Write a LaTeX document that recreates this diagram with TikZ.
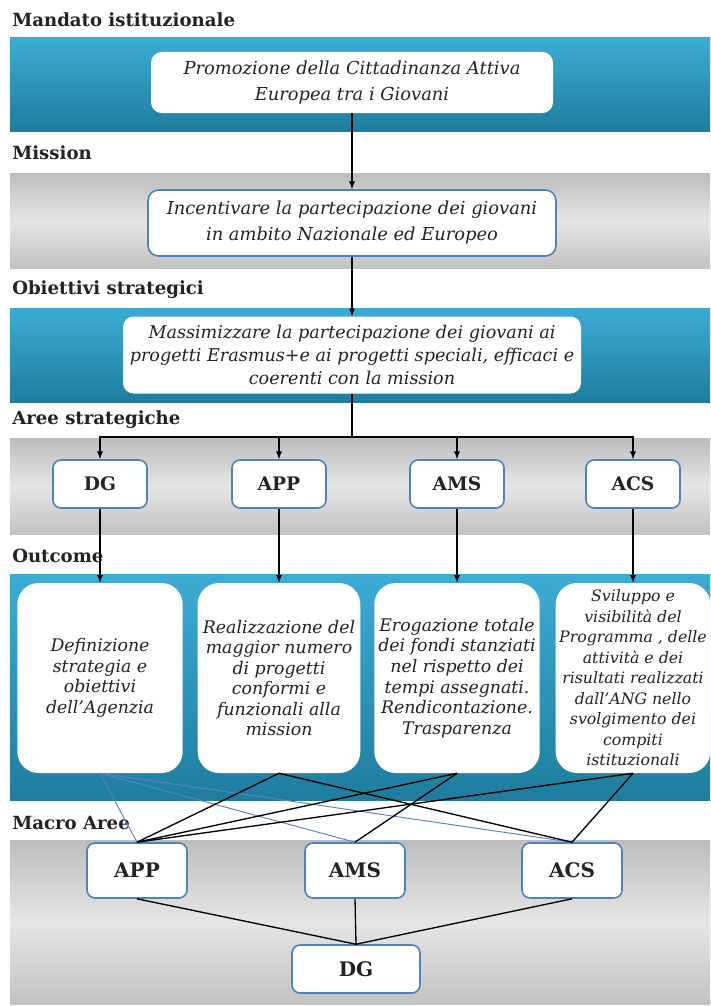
\documentclass[tikz,border=0pt]{standalone}
\usepackage{fontspec}
\setmainfont{DejaVu Serif}
\definecolor{bandtop}{RGB}{60,172,212}
\definecolor{bandbot}{RGB}{30,125,158}
\definecolor{boxline}{RGB}{79,129,189}
\definecolor{thinblue}{RGB}{88,130,190}
\definecolor{txt}{RGB}{35,35,35}

\begin{document}
\begin{tikzpicture}[x=0.75pt, y=-0.75pt, >=latex,
    heading/.style={anchor=west, inner sep=0pt, text=txt, font=\bfseries\fontsize{13.6}{15}\selectfont},
    bluebar/.style={top color=bandtop, bottom color=bandbot},
    greybar/.style={top color=black!26, bottom color=black!24, middle color=black!10},
    topbox/.style={fill=white, rounded corners=8pt, align=center, text=txt, inner sep=2pt, font=\itshape\fontsize{13.4}{19.5}\selectfont},
    areabox/.style={draw=boxline, line width=1.2pt, fill=white, rounded corners=6pt, text=txt, minimum width=70.5pt, minimum height=36pt, font=\bfseries\fontsize{14}{16}\selectfont},
    macrobox/.style={areabox, minimum width=75pt, minimum height=41.25pt, font=\bfseries\fontsize{15}{17}\selectfont},
    outbox/.style={fill=white, rounded corners=16pt, align=center, text=txt, minimum width=124pt, minimum height=142.5pt, inner sep=1pt, font=\itshape\fontsize{13}{15.4}\selectfont},
    link/.style={line width=1pt},
    weaklink/.style={thinblue, line width=0.7pt}]
    \useasboundingbox (0,0) rectangle (710,1006);
    \fill[white] (0,0) rectangle (710,1006);

    % bands
    \shade[bluebar] (10,38) rectangle (710,131);
    \shade[greybar] (10,173) rectangle (710,268);
    \shade[bluebar] (10,308) rectangle (710,402);
    \shade[greybar] (10,438) rectangle (710,534);
    \shade[bluebar] (10,574) rectangle (710,800);
    \shade[greybar] (10,840) rectangle (710,1004);

    \node[heading] (hMandato) at (12, 20) {Mandato istituzionale};
    \node[heading] (hMission) at (12, 153) {Mission};
    \node[heading] (hObiettivi) at (12, 290) {Obiettivi strategici};
    \node[heading] (hAree) at (12, 420) {Aree strategiche};
    \node[heading] (hOutcome) at (12, 556) {Outcome};
    \node[heading] (hMacro) at (12, 823) {Macro Aree};

    \node[topbox, minimum width=301.5pt, minimum height=45.75pt] (mandato) at (352, 82.5)
        {Promozione della Cittadinanza Attiva\\Europea tra i Giovani};
    \node[topbox, draw=boxline, line width=1.2pt, minimum width=306pt, minimum height=49.5pt] (mission) at (352, 223)
        {Incentivare la partecipazione dei giovani\\in ambito Nazionale ed Europeo};
    \node[topbox, minimum width=343.5pt, minimum height=57.75pt, font=\itshape\fontsize{13.2}{17}\selectfont] (obiettivi) at (352, 355)
        {Massimizzare la partecipazione dei giovani ai\\progetti Erasmus+e ai progetti speciali, efficaci e\\coerenti con la mission};

    \node[areabox] (sDG) at (100, 484) {DG};
    \node[areabox] (sAPP) at (279, 484) {APP};
    \node[areabox] (sAMS) at (457, 484) {AMS};
    \node[areabox] (sACS) at (633, 484) {ACS};

    \node[outbox] (oDG) at (100, 678) {Definizione\\strategia e\\obiettivi\\dell'Agenzia};
    \node[outbox, minimum width=122pt] (oAPP) at (279, 678)
        {Realizzazione del\\maggior numero\\di progetti\\conformi e\\funzionali alla\\mission};
    \node[outbox] (oAMS) at (457, 678)
        {Erogazione totale\\dei fondi stanziati\\nel rispetto dei\\tempi assegnati.\\Rendicontazione.\\Trasparenza};
    \node[outbox, minimum width=116pt, font=\itshape\fontsize{11.8}{15.4}\selectfont] (oACS) at (633, 678)
        {Sviluppo e\\visibilità del\\Programma , delle\\attività e dei\\risultati realizzati\\dall'ANG nello\\svolgimento dei\\compiti\\istituzionali};

    \node[macrobox] (mAPP) at (137, 870.5) {APP};
    \node[macrobox] (mAMS) at (355, 870.5) {AMS};
    \node[macrobox] (mACS) at (572, 870.5) {ACS};
    \node[macrobox, minimum width=96pt, minimum height=36pt] (mDG) at (356, 969) {DG};

    \coordinate (split) at (352, 437);

    \path[->, link]
        (mandato) edge (mission)
        (mission) edge (obiettivi)
        (sDG) edge (oDG)
        (sAPP) edge (oAPP)
        (sAMS) edge (oAMS)
        (sACS) edge (oACS)
        ;
    \draw[line width=1.6pt] (obiettivi.south) -- (split);
    \draw[->, link] (split) -| (sDG.north);
    \draw[->, link] (split) -| (sAPP.north);
    \draw[->, link] (split) -| (sAMS.north);
    \draw[->, link] (split) -| (sACS.north);

    \path[weaklink]
        (oDG.south) edge (mAPP.north)
        (oDG.south) edge (mAMS.north)
        (oDG.south) edge (mACS.north)
        ;
    \path[link]
        (oAPP.south) edge (mAPP.north)
        (oAPP.south) edge (mACS.north)
        (oAMS.south) edge (mAPP.north)
        (oAMS.south) edge (mAMS.north)
        (oACS.south) edge (mAPP.north)
        (oACS.south) edge (mACS.north)
        (mAPP.south) edge (mDG.north)
        (mAMS.south) edge (mDG.north)
        (mACS.south) edge (mDG.north)
        ;
\end{tikzpicture}
\end{document}
